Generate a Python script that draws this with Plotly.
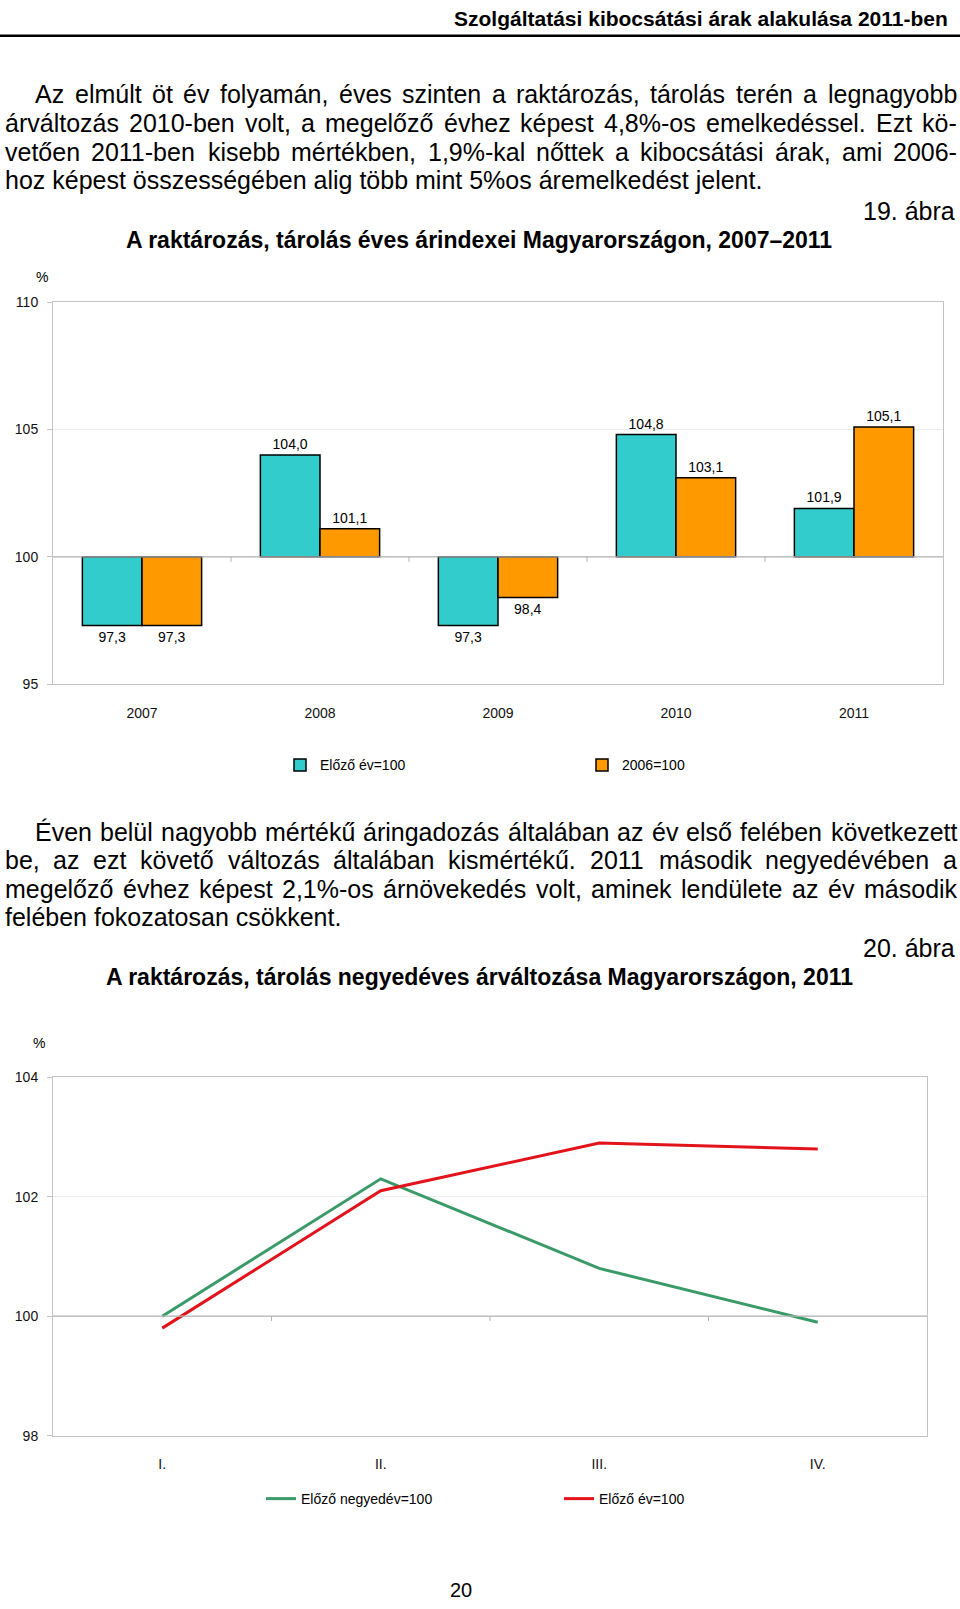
import unicodedata
import plotly.graph_objects as go

# ---------------- data ----------------
years = ["2007", "2008", "2009", "2010", "2011"]
prev_year_idx = [97.3, 104.0, 97.3, 104.8, 101.9]      # Előző év=100
base2006_idx = [97.3, 101.1, 98.4, 103.1, 105.1]       # 2006=100
bar_y_ticks = [95, 100, 105, 110]

quarters = ["I.", "II.", "III.", "IV."]
prev_quarter_q = [100.0, 102.3, 100.8, 99.9]           # Előző negyedév=100
prev_year_q = [99.8, 102.1, 102.9, 102.8]              # Előző év=100
line_y_ticks = [98, 100, 102, 104]

header = "Szolgáltatási kibocsátási árak alakulása 2011-ben"
para1 = [
    "Az elmúlt öt év folyamán, éves szinten a raktározás, tárolás terén a legnagyobb",
    "árváltozás 2010-ben volt, a megelőző évhez képest 4,8%-os emelkedéssel. Ezt kö-",
    "vetően 2011-ben kisebb mértékben, 1,9%-kal nőttek a kibocsátási árak, ami 2006-",
    "hoz képest összességében alig több mint 5%os áremelkedést jelent.",
]
para2 = [
    "Éven belül nagyobb mértékű áringadozás általában az év első felében következett",
    "be, az ezt követő változás általában kismértékű. 2011 második negyedévében a",
    "megelőző évhez képest 2,1%-os árnövekedés volt, aminek lendülete az év második",
    "felében fokozatosan csökkent.",
]
fig1_no = "19. ábra"
fig1_title = "A raktározás, tárolás éves árindexei Magyarországon, 2007–2011"
fig2_no = "20. ábra"
fig2_title = "A raktározás, tárolás negyedéves árváltozása Magyarországon, 2011"
page_no = "20"

# ---------------- helpers ----------------
W, H = 960, 1609
FONT = "Liberation Sans, Arial, sans-serif"
TEAL, ORANGE = "#33CCCC", "#FF9900"
GREEN, RED = "#3A9A68", "#E3131B"
GRID, FRAME, AXIS100 = "#ececec", "#c4c4c4", "#b4b4b4"

AW = {' ': 278, '!': 278, '%': 889, ',': 278, '-': 333, '.': 278, ':': 278, '=': 584,
      'A': 667, 'B': 667, 'C': 722, 'D': 722, 'E': 667, 'F': 611, 'G': 778, 'H': 722,
      'I': 278, 'J': 500, 'K': 667, 'L': 556, 'M': 833, 'N': 722, 'O': 778, 'P': 667,
      'R': 722, 'S': 667, 'T': 611, 'U': 722, 'V': 667, 'Z': 611,
      'a': 556, 'b': 556, 'c': 500, 'd': 556, 'e': 556, 'f': 278, 'g': 556, 'h': 556,
      'i': 222, 'j': 222, 'k': 500, 'l': 222, 'm': 833, 'n': 556, 'o': 556, 'p': 556,
      'q': 556, 'r': 333, 's': 500, 't': 278, 'u': 556, 'v': 500, 'w': 722, 'x': 500,
      'y': 500, 'z': 500}


def tw(s, size):
    tot = 0
    for ch in s:
        b = unicodedata.normalize("NFD", ch)[0]
        tot += AW.get(b, 556)
    return tot * size / 1000.0


def py(v):
    return 1 - v / H


def px(v):
    return v / W


annotations = []


def note(text, x, y, size, anchor="left", bold=False, color="#000"):
    annotations.append(dict(
        text=text, x=px(x), y=py(y), xref="paper", yref="paper",
        xanchor=anchor, yanchor="middle", showarrow=False, borderpad=0,
        font=dict(family=FONT, size=size, color=color,
                  weight="bold" if bold else "normal")))


BODY = 25


def body_line(text, y, x0, x1=None):
    if x1 is None:
        note(text, x0, y, BODY)
        return
    words = text.split(" ")
    widths = [tw(w, BODY) for w in words]
    gap = (x1 - x0 - sum(widths)) / (len(words) - 1)
    x = x0
    for w, wd in zip(words, widths):
        note(w, x, y, BODY)
        x += wd + gap


# header
note(header, 949, 11, 21, anchor="right", bold=True)

# paragraph 1
ys1 = [87, 116, 145, 174]
for i, (t, y) in enumerate(zip(para1, ys1)):
    if i == len(para1) - 1:
        body_line(t, y, 4)
    else:
        body_line(t, y, 34 if i == 0 else 4, 956)
note(fig1_no, 956, 205, BODY, anchor="right")
note(fig1_title, 479, 234, 23, anchor="center", bold=True)
note("%", 35, 272, 14)

# paragraph 2
ys2 = [832, 861, 890, 918]
for i, (t, y) in enumerate(zip(para2, ys2)):
    if i == len(para2) - 1:
        body_line(t, y, 4)
    else:
        body_line(t, y, 34 if i == 0 else 4, 956)
note(fig2_no, 956, 949, BODY, anchor="right")
note(fig2_title, 479, 979, 23, anchor="center", bold=True)
note("%", 32, 1045, 14)

note(page_no, 461, 1598, 20, anchor="center")


def fmt(v):
    return f"{v:.1f}".replace(".", ",")


fig = go.Figure()

# ---------------- chart 1: bars around 100 ----------------
for name, vals, col in [("Előző év=100", prev_year_idx, TEAL),
                        ("2006=100", base2006_idx, ORANGE)]:
    fig.add_trace(go.Bar(
        x=years, y=[v - 100 for v in vals], base=100, name=name,
        marker=dict(color=col, line=dict(color="#000", width=1.5)),
        text=[fmt(v) for v in vals], textposition="outside",
        textfont=dict(family=FONT, size=14, color="#000"),
        cliponaxis=False, xaxis="x", yaxis="y", legend="legend",
        hoverinfo="skip"))

# ---------------- chart 2: lines ----------------
for name, vals, col in [("Előző negyedév=100", prev_quarter_q, GREEN),
                        ("Előző év=100", prev_year_q, RED)]:
    fig.add_trace(go.Scatter(
        x=quarters, y=vals, name=name, mode="lines",
        line=dict(color=col, width=3), xaxis="x2", yaxis="y2",
        legend="legend2", hoverinfo="skip"))

shapes = [
    dict(type="line", xref="paper", yref="paper", x0=0, x1=1,
         y0=py(28), y1=py(28), line=dict(color="#000", width=2.5)),
    dict(type="line", xref="x domain", yref="y", x0=0, x1=1, y0=100, y1=100,
         line=dict(color=AXIS100, width=1.2)),
    dict(type="line", xref="x2 domain", yref="y2", x0=0, x1=1, y0=100, y1=100,
         line=dict(color=AXIS100, width=1.2)),
]
for i in range(len(years) - 1):
    shapes.append(dict(type="line", xref="x", yref="y", x0=i + 0.5, x1=i + 0.5,
                       y0=100, y1=99.8, line=dict(color=AXIS100, width=1)))
for i in range(len(quarters) - 1):
    shapes.append(dict(type="line", xref="x2", yref="y2", x0=i + 0.5, x1=i + 0.5,
                       y0=100, y1=99.92, line=dict(color=AXIS100, width=1)))

tickfont = dict(family=FONT, size=14, color="#111")
xcommon = dict(type="category", showline=True, mirror=True, linecolor=FRAME,
               linewidth=1, ticks="", showgrid=False, tickfont=tickfont,
               ticklabelstandoff=16, fixedrange=True)
ycommon = dict(showline=True, mirror=True, linecolor=FRAME, linewidth=1,
               showgrid=True, gridcolor=GRID, gridwidth=1, zeroline=False,
               ticks="outside", ticklen=5, tickcolor=FRAME, tickfont=tickfont,
               ticklabelstandoff=6, fixedrange=True)

fig.update_layout(
    width=W, height=H, margin=dict(l=0, r=0, t=0, b=0),
    paper_bgcolor="#fff", plot_bgcolor="#fff",
    font=dict(family=FONT, color="#000"),
    barmode="group", bargap=0.33, bargroupgap=0,
    xaxis=dict(xcommon, domain=[px(53), px(943)], anchor="y",
               range=[-0.5, len(years) - 0.5]),
    yaxis=dict(ycommon, domain=[py(683), py(297)], range=[95, 110],
               tickvals=bar_y_ticks, anchor="x"),
    xaxis2=dict(xcommon, domain=[px(53), px(927)], anchor="y2",
                range=[-0.5, len(quarters) - 0.5]),
    yaxis2=dict(ycommon, domain=[py(1442), py(1080)], range=[98, 104],
                tickvals=line_y_ticks, anchor="x2"),
    legend=dict(orientation="h", x=px(280), y=py(765), xanchor="left",
                yanchor="middle", font=dict(family=FONT, size=14),
                itemwidth=30, entrywidth=257, bgcolor="rgba(0,0,0,0)",
                traceorder="normal"),
    legend2=dict(orientation="h", x=px(261), y=py(1506), xanchor="left",
                 yanchor="middle", font=dict(family=FONT, size=14),
                 itemwidth=30, entrywidth=253, bgcolor="rgba(0,0,0,0)",
                 traceorder="normal"),
    shapes=shapes, annotations=annotations, showlegend=True,
)

fig.write_html(
    "out.html",
    config={"displayModeBar": False},
    post_script="document.body.style.margin='0';"
                "document.body.style.overflow='hidden';",
)
